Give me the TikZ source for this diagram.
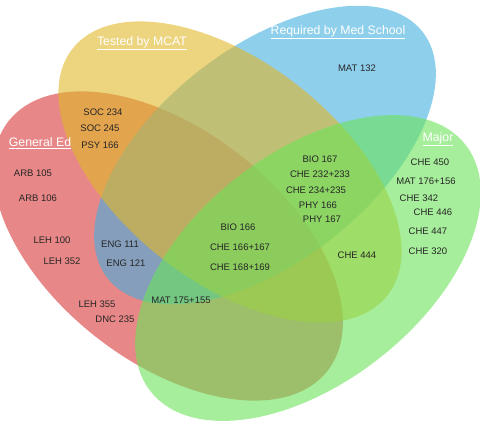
\documentclass[tikz,border=0pt]{standalone}
\usepackage{fontspec}
\setmainfont{Liberation Sans}
\usetikzlibrary{shapes.geometric}

\definecolor{gened}{RGB}{217,55,55}
\definecolor{mcat}{RGB}{225,183,40}
\definecolor{medschool}{RGB}{67,175,223}
\definecolor{major}{RGB}{107,227,88}

\begin{document}
\begin{tikzpicture}[
        x=1pt, y=-1pt,
        set/.style={ellipse, draw=none, fill opacity=0.6, inner sep=0pt},
        course/.style={font=\fontsize{9.5}{11}\selectfont, text=black!85},
        setlabel/.style={font=\fontsize{12.3}{14}\selectfont, text=white}
      ]
        \useasboundingbox (0,0) rectangle (480,421);

        % Sets
        \node[set, fill=gened, minimum width=405pt, minimum height=232pt, rotate=-38] (gened) at (168,246) {};
        \node[set, fill=medschool, minimum width=400pt, minimum height=214pt, rotate=38] (medschool) at (265,155) {};
        \node[set, fill=mcat, minimum width=400pt, minimum height=220pt, rotate=-38] (mcat) at (230,172) {};
        \node[set, fill=major, minimum width=400pt, minimum height=230pt, rotate=38] (major) at (308,268) {};

        % Set labels
        \node[setlabel] (gened label) at (40,143) {\underline{General Ed}};
        \node[setlabel] (mcat label) at (142,43) {\underline{Tested by MCAT}};
        \node[setlabel] (medschool label) at (338,32) {\underline{Required by Med School}};
        \node[setlabel] (major label) at (438,139) {\underline{Major}};

        % General Ed only
        \node[course] (arb105) at (33,173) {ARB 105};
        \node[course] (arb106) at (38,198) {ARB 106};
        \node[course] (leh100) at (52,240) {LEH 100};
        \node[course] (leh352) at (62,261) {LEH 352};
        \node[course] (leh355) at (97,304) {LEH 355};
        \node[course] (dnc235) at (115,319) {DNC 235};

        % General Ed and MCAT
        \node[course] (soc234) at (103,112) {SOC 234};
        \node[course] (soc245) at (100,128) {SOC 245};
        \node[course] (psy166) at (100,145) {PSY 166};

        % General Ed and Med School
        \node[course] (eng111) at (120,244) {ENG 111};
        \node[course] (eng121) at (126,263) {ENG 121};
        \node[course] (mat175) at (181,300) {MAT 175+155};

        % Med School only
        \node[course] (mat132) at (357,68) {MAT 132};

        % All four
        \node[course] (bio166) at (238,227) {BIO 166};
        \node[course] (che166) at (240,247) {CHE 166+167};
        \node[course] (che168) at (240,267) {CHE 168+169};

        % MCAT, Med School and Major
        \node[course] (bio167) at (320,159) {BIO 167};
        \node[course] (che232) at (320,174) {CHE 232+233};
        \node[course] (che234) at (316,190) {CHE 234+235};
        \node[course] (phy166) at (318,205) {PHY 166};
        \node[course] (phy167) at (322,219) {PHY 167};

        % MCAT and Major
        \node[course] (che444) at (357,255) {CHE 444};

        % Major only
        \node[course] (che450) at (430,162) {CHE 450};
        \node[course] (mat176) at (426,181) {MAT 176+156};
        \node[course] (che342) at (419,198) {CHE 342};
        \node[course] (che446) at (433,212) {CHE 446};
        \node[course] (che447) at (428,231) {CHE 447};
        \node[course] (che320) at (428,251) {CHE 320};

      \end{tikzpicture}
\end{document}
